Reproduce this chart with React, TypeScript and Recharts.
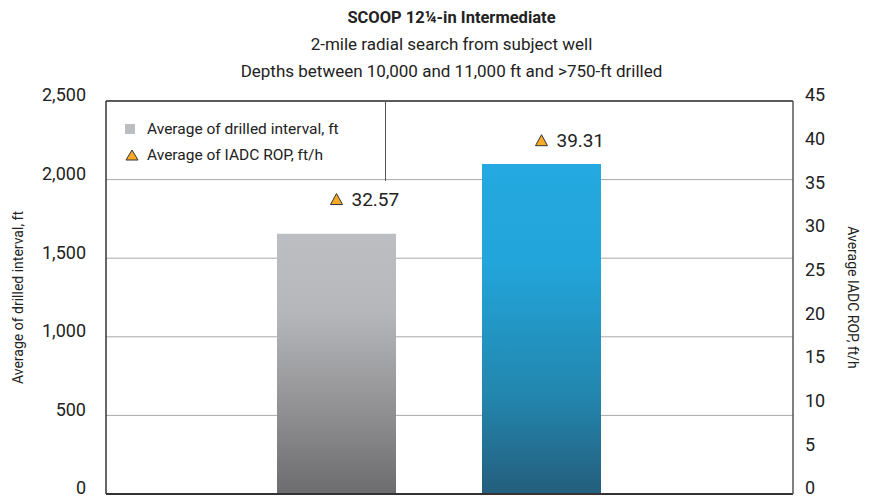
import { ComposedChart, Bar, Line, Cell, XAxis, YAxis, CartesianGrid, Legend, ReferenceLine } from "recharts";

const FONT = "Roboto, 'Liberation Sans', sans-serif";

const categories = ["Offset wells", "Subject well"];
const drilledInterval = [1655, 2100];
const iadcRop = [32.57, 39.31];
const leftTicks = [0, 500, 1000, 1500, 2000, 2500];
const rightTicks = [0, 5, 10, 15, 20, 25, 30, 35, 40, 45];
const barFills = ["url(#gradGray)", "url(#gradBlue)"];

const data = categories.map((name, i) => ({ name, interval: drilledInterval[i], rop: iadcRop[i] }));

function TriangleDot(props: any) {
  const { cx, cy, value, index } = props;
  if (cx == null || cy == null) return null;
  const y = cy - 10;
  return (
    <g key={index}>
      <path d={`M${cx - 6},${y + 5} L${cx},${y - 6} L${cx + 6},${y + 5} Z`} fill="#f7a928" stroke="#333" strokeWidth={1} />
      <text x={cx + 15} y={y} dominantBaseline="central" fontSize={19} fill="#222" fontFamily={FONT}>
        {value}
      </text>
    </g>
  );
}

function LegendBox() {
  return (
    <div style={{ boxSizing: "border-box", width: 280, height: 80, borderRight: "1px solid #555", padding: "15px 0 0 19px", fontFamily: FONT, fontSize: 15.5, color: "#222" }}>
      <div style={{ display: "flex", alignItems: "center", height: 26 }}>
        <span style={{ width: 10, height: 10, background: "#bcbdc1", display: "inline-block", marginRight: 12 }} />
        Average of drilled interval, ft
      </div>
      <div style={{ display: "flex", alignItems: "center", height: 26 }}>
        <svg width={14} height={12} style={{ marginRight: 8 }}>
          <path d="M1,11 L7,1 L13,11 Z" fill="#f7a928" stroke="#333" strokeWidth={1} />
        </svg>
        Average of IADC ROP, ft/h
      </div>
    </div>
  );
}

export default function App() {
  return (
    <div style={{ position: "relative", width: 877, height: 497, background: "#fff", fontFamily: FONT }}>
      <style>{"html,body{margin:0;padding:0;overflow:hidden}"}</style>
      <div style={{ position: "absolute", top: 4, left: 108, width: 687, textAlign: "center", lineHeight: "27px", color: "#222", fontSize: 17 }}>
        <div style={{ fontWeight: "bold", fontSize: 16.5 }}>SCOOP 12¼-in Intermediate</div>
        <div>2-mile radial search from subject well</div>
        <div>Depths between 10,000 and 11,000 ft and &gt;750-ft drilled</div>
      </div>
      <ComposedChart width={877} height={497} data={data} margin={{ top: 101, right: 0, bottom: 2, left: 0 }} style={{ position: "absolute", top: 0, left: 0 }}>
        <defs>
          <linearGradient id="gradGray" x1="0" y1="0" x2="0" y2="1">
            <stop offset="0" stopColor="#bdbec2" />
            <stop offset="0.3" stopColor="#b6b7ba" />
            <stop offset="0.7" stopColor="#8e8e91" />
            <stop offset="1" stopColor="#6c6c6e" />
          </linearGradient>
          <linearGradient id="gradBlue" x1="0" y1="0" x2="0" y2="1">
            <stop offset="0" stopColor="#24a9e0" />
            <stop offset="0.3" stopColor="#22a5da" />
            <stop offset="0.7" stopColor="#2386ae" />
            <stop offset="1" stopColor="#245e7c" />
          </linearGradient>
        </defs>
        <CartesianGrid yAxisId="left" vertical={false} stroke="#a8a8a8" />
        <XAxis dataKey="name" tick={false} tickLine={false} axisLine={{ stroke: "#333", strokeWidth: 2 }} height={1} padding={{ left: 128, right: 149 }} />
        <YAxis
          yAxisId="left"
          width={106}
          domain={[0, 2500]}
          ticks={leftTicks}
          interval={0}
          tickLine={false}
          tickMargin={14}
          axisLine={{ stroke: "#333", strokeWidth: 1.5 }}
          tick={{ fill: "#222", fontSize: 18, fontFamily: FONT, dy: -6 }}
          tickFormatter={(v: number) => v.toLocaleString("en-US")}
          label={{
            content: ({ viewBox }: any) => (
              <text x={18} y={viewBox.y + viewBox.height / 2} transform={`rotate(-90, 18, ${viewBox.y + viewBox.height / 2})`} textAnchor="middle" dominantBaseline="central" fontSize={14} fill="#222" fontFamily={FONT}>
                Average of drilled interval, ft
              </text>
            ),
          }}
        />
        <YAxis
          yAxisId="right"
          orientation="right"
          width={84}
          domain={[0, 45]}
          ticks={rightTicks}
          interval={0}
          tickLine={false}
          tickMargin={6}
          axisLine={{ stroke: "#555", strokeWidth: 1.5 }}
          tick={{ fill: "#222", fontSize: 18, fontFamily: FONT, dy: -6 }}
          label={{
            content: ({ viewBox }: any) => (
              <text x={853} y={viewBox.y + viewBox.height / 2} transform={`rotate(90, 853, ${viewBox.y + viewBox.height / 2})`} textAnchor="middle" dominantBaseline="central" fontSize={14} fill="#222" fontFamily={FONT}>
                Average IADC ROP, ft/h
              </text>
            ),
          }}
        />
        <ReferenceLine yAxisId="left" y={2500} stroke="#333" strokeWidth={1.5} />
        <Legend layout="horizontal" align="center" verticalAlign="middle" wrapperStyle={{ top: 101, left: 106, width: 280, height: 80 }} content={() => <LegendBox />} />
        <Bar yAxisId="left" dataKey="interval" barSize={119} isAnimationActive={false}>
          {data.map((_, i) => (
            <Cell key={i} fill={barFills[i]} />
          ))}
        </Bar>
        <Line yAxisId="right" dataKey="rop" stroke="none" dot={<TriangleDot />} activeDot={false} isAnimationActive={false} />
      </ComposedChart>
    </div>
  );
}
